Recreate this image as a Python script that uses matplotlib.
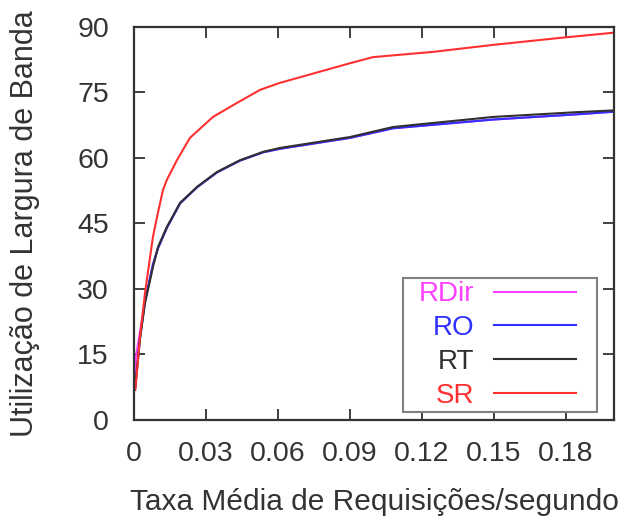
import matplotlib
matplotlib.use('Agg')
import matplotlib.pyplot as plt
from matplotlib.path import Path

plt.rcParams['font.family'] = ['Liberation Sans', 'DejaVu Sans']

# taxa media de requisicoes (x) e utilizacao de banda (y)
x_sr = [0.0006, 0.0025, 0.0046, 0.0079, 0.0096, 0.0121, 0.0137, 0.0179, 0.0233, 0.0329,
        0.0429, 0.0525, 0.0608, 0.090, 0.0996, 0.1246, 0.1496, 0.1775, 0.200]
y_sr = [7.0, 19.0, 29.1, 41.9, 46.5, 52.7, 55.0, 59.5, 64.6, 69.4,
        72.6, 75.6, 77.2, 81.7, 83.1, 84.3, 85.9, 87.5, 88.7]

x_rt = [0.0004, 0.0025, 0.0046, 0.0079, 0.0100, 0.0137, 0.0192, 0.0263, 0.0346, 0.0442,
        0.0538, 0.0608, 0.090, 0.108, 0.1496, 0.1846, 0.200]
y_rt = [6.9, 18.5, 26.8, 35.0, 39.6, 44.2, 49.7, 53.4, 56.8, 59.5,
        61.4, 62.3, 64.8, 67.1, 69.4, 70.5, 70.9]

x_ro = x_rt
y_ro = [6.9, 18.7, 27.2, 35.6, 39.3, 44.0, 49.6, 53.3, 56.7, 59.4,
        61.3, 62.1, 64.6, 66.8, 68.8, 70.0, 70.6]

x_rdir = [0.0, 0.0008] + x_ro[2:]
y_rdir = [6.5, 14.5] + y_ro[2:]

x_ticks = [0, 0.03, 0.06, 0.09, 0.12, 0.15, 0.18]
x_ticklabels = ['0', '0.03', '0.06', '0.09', '0.12', '0.15', '0.18']
y_ticks = [0, 15, 30, 45, 60, 75, 90]


def legend_box(x0, y0, width, height, mutation_size):
    # moldura mais larga que o conteudo, como no gnuplot
    l = x0 - 0.45 * mutation_size
    r = x0 + width + 0.63 * mutation_size
    t = y0 + height
    return Path([(l, y0), (r, y0), (r, t), (l, t), (l, y0)],
                [Path.MOVETO, Path.LINETO, Path.LINETO, Path.LINETO, Path.CLOSEPOLY])


fig = plt.figure(figsize=(6.24, 5.24), dpi=100)
ax = fig.add_axes([0.2147, 0.1985, 0.7693, 0.750])

ax.plot(x_rdir, y_rdir, color='#ff40ff', lw=1.5, label='RDir')
ax.plot(x_ro, y_ro, color='#3030ff', lw=1.5, label='RO')
ax.plot(x_rt, y_rt, color='#303030', lw=1.5, label='RT')
ax.plot(x_sr, y_sr, color='#ff3030', lw=1.5, label='SR')

ax.set_xlim(0, 0.2)
ax.set_ylim(0, 90)
ax.set_xticks(x_ticks)
ax.set_xticklabels(x_ticklabels)
ax.set_yticks(y_ticks)
ax.tick_params(direction='in', length=8, width=1.3, top=True, right=True,
               labelsize=20.5, colors='#333333')
ax.tick_params(axis='x', pad=15)
ax.tick_params(axis='y', pad=18)
for s in ax.spines.values():
    s.set_linewidth(1.6)
    s.set_color('#333333')

ax.set_xlabel('Taxa Média de Requisições/segundo', fontsize=21.5, color='#333333', labelpad=15)
ax.set_ylabel('Utilização de Largura de Banda', fontsize=22, color='#333333', labelpad=27)

leg = ax.legend(loc='lower right', bbox_to_anchor=(0.928, 0.0204), markerfirst=False,
                fancybox=False, framealpha=1, edgecolor='#808080', fontsize=20,
                handlelength=2.95, labelspacing=0.28, borderpad=0.12, handletextpad=0.72,
                borderaxespad=0)
leg.get_frame().set_linewidth(1.5)
leg.get_frame().set_boxstyle(legend_box)
for t, c in zip(leg.get_texts(), ['#ff40ff', '#3030ff', '#303030', '#ff3030']):
    t.set_color(c)

fig.savefig('out.png', dpi=100)
